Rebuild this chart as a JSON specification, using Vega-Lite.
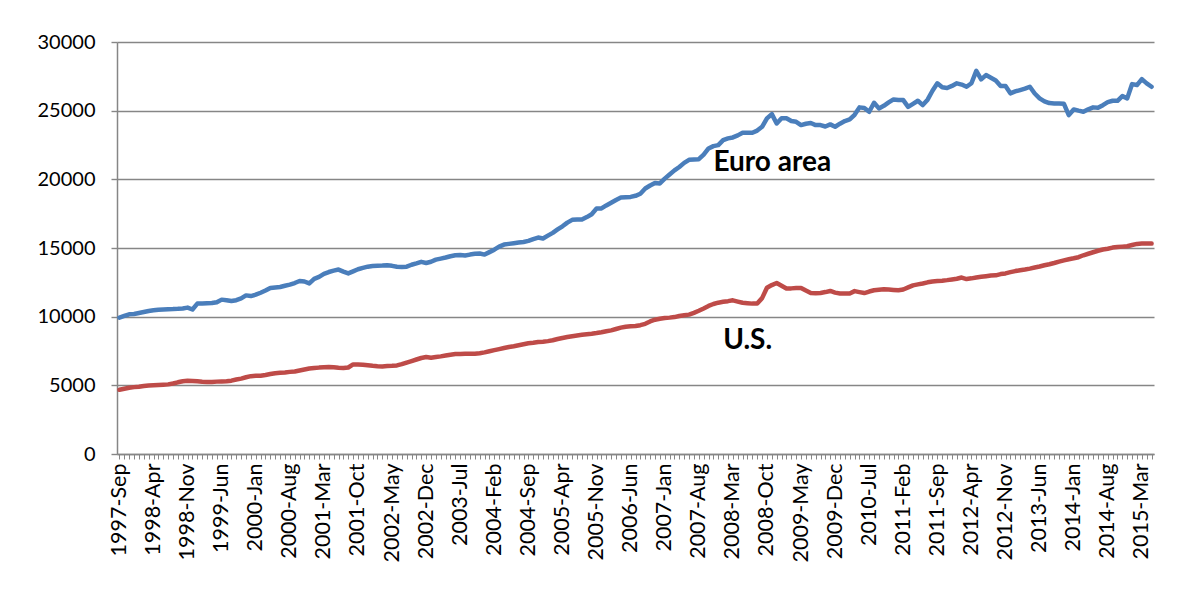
{
  "$schema": "https://vega.github.io/schema/vega-lite/v6.json",
  "width": 1037,
  "height": 412,
  "autosize": "none",
  "padding": {"left": 117, "top": 42, "right": 24, "bottom": 146},
  "background": "white",
  "config": {"view": {"stroke": null}, "font": "Lato"},
  "datasets": {
    "main": [
      {"m":"1997-Sep","ea":9930,"us":4680},{"m":"1997-Oct","ea":10050,"us":4750},{"m":"1997-Nov","ea":10170,"us":4820},{"m":"1997-Dec","ea":10200,"us":4870},
      {"m":"1998-Jan","ea":10270,"us":4900},{"m":"1998-Feb","ea":10340,"us":4950},{"m":"1998-Mar","ea":10410,"us":4990},{"m":"1998-Apr","ea":10460,"us":5010},{"m":"1998-May","ea":10510,"us":5030},{"m":"1998-Jun","ea":10530,"us":5050},{"m":"1998-Jul","ea":10540,"us":5070},{"m":"1998-Aug","ea":10550,"us":5130},{"m":"1998-Sep","ea":10570,"us":5220},{"m":"1998-Oct","ea":10600,"us":5300},{"m":"1998-Nov","ea":10660,"us":5330},{"m":"1998-Dec","ea":10520,"us":5320},
      {"m":"1999-Jan","ea":10950,"us":5290},{"m":"1999-Feb","ea":10960,"us":5260},{"m":"1999-Mar","ea":10980,"us":5240},{"m":"1999-Apr","ea":10990,"us":5250},{"m":"1999-May","ea":11050,"us":5270},{"m":"1999-Jun","ea":11240,"us":5285},{"m":"1999-Jul","ea":11200,"us":5300},{"m":"1999-Aug","ea":11140,"us":5340},{"m":"1999-Sep","ea":11200,"us":5420},{"m":"1999-Oct","ea":11330,"us":5490},{"m":"1999-Nov","ea":11550,"us":5590},{"m":"1999-Dec","ea":11500,"us":5670},
      {"m":"2000-Jan","ea":11600,"us":5690},{"m":"2000-Feb","ea":11740,"us":5700},{"m":"2000-Mar","ea":11900,"us":5750},{"m":"2000-Apr","ea":12090,"us":5820},{"m":"2000-May","ea":12130,"us":5880},{"m":"2000-Jun","ea":12160,"us":5910},{"m":"2000-Jul","ea":12250,"us":5940},{"m":"2000-Aug","ea":12330,"us":5980},{"m":"2000-Sep","ea":12450,"us":6010},{"m":"2000-Oct","ea":12600,"us":6080},{"m":"2000-Nov","ea":12560,"us":6150},{"m":"2000-Dec","ea":12420,"us":6220},
      {"m":"2001-Jan","ea":12750,"us":6260},{"m":"2001-Feb","ea":12900,"us":6290},{"m":"2001-Mar","ea":13120,"us":6310},{"m":"2001-Apr","ea":13250,"us":6330},{"m":"2001-May","ea":13350,"us":6310},{"m":"2001-Jun","ea":13430,"us":6280},{"m":"2001-Jul","ea":13280,"us":6260},{"m":"2001-Aug","ea":13150,"us":6300},{"m":"2001-Sep","ea":13300,"us":6520},{"m":"2001-Oct","ea":13450,"us":6510},{"m":"2001-Nov","ea":13550,"us":6500},{"m":"2001-Dec","ea":13640,"us":6460},
      {"m":"2002-Jan","ea":13690,"us":6420},{"m":"2002-Feb","ea":13710,"us":6390},{"m":"2002-Mar","ea":13720,"us":6380},{"m":"2002-Apr","ea":13740,"us":6400},{"m":"2002-May","ea":13700,"us":6420},{"m":"2002-Jun","ea":13630,"us":6450},{"m":"2002-Jul","ea":13620,"us":6540},{"m":"2002-Aug","ea":13640,"us":6660},{"m":"2002-Sep","ea":13780,"us":6770},{"m":"2002-Oct","ea":13880,"us":6880},{"m":"2002-Nov","ea":13990,"us":6990},{"m":"2002-Dec","ea":13910,"us":7060},
      {"m":"2003-Jan","ea":14000,"us":7010},{"m":"2003-Feb","ea":14150,"us":7060},{"m":"2003-Mar","ea":14230,"us":7110},{"m":"2003-Apr","ea":14310,"us":7170},{"m":"2003-May","ea":14400,"us":7230},{"m":"2003-Jun","ea":14470,"us":7275},{"m":"2003-Jul","ea":14490,"us":7290},{"m":"2003-Aug","ea":14450,"us":7300},{"m":"2003-Sep","ea":14520,"us":7300},{"m":"2003-Oct","ea":14580,"us":7300},{"m":"2003-Nov","ea":14600,"us":7340},{"m":"2003-Dec","ea":14520,"us":7400},
      {"m":"2004-Jan","ea":14700,"us":7480},{"m":"2004-Feb","ea":14880,"us":7560},{"m":"2004-Mar","ea":15100,"us":7640},{"m":"2004-Apr","ea":15250,"us":7720},{"m":"2004-May","ea":15300,"us":7790},{"m":"2004-Jun","ea":15350,"us":7850},{"m":"2004-Jul","ea":15400,"us":7920},{"m":"2004-Aug","ea":15440,"us":7990},{"m":"2004-Sep","ea":15520,"us":8060},{"m":"2004-Oct","ea":15650,"us":8100},{"m":"2004-Nov","ea":15760,"us":8150},{"m":"2004-Dec","ea":15690,"us":8180},
      {"m":"2005-Jan","ea":15900,"us":8220},{"m":"2005-Feb","ea":16100,"us":8280},{"m":"2005-Mar","ea":16350,"us":8370},{"m":"2005-Apr","ea":16580,"us":8450},{"m":"2005-May","ea":16850,"us":8520},{"m":"2005-Jun","ea":17050,"us":8580},{"m":"2005-Jul","ea":17080,"us":8630},{"m":"2005-Aug","ea":17070,"us":8680},{"m":"2005-Sep","ea":17250,"us":8720},{"m":"2005-Oct","ea":17460,"us":8760},{"m":"2005-Nov","ea":17870,"us":8810},{"m":"2005-Dec","ea":17880,"us":8870},
      {"m":"2006-Jan","ea":18100,"us":8940},{"m":"2006-Feb","ea":18300,"us":9000},{"m":"2006-Mar","ea":18500,"us":9100},{"m":"2006-Apr","ea":18680,"us":9200},{"m":"2006-May","ea":18700,"us":9270},{"m":"2006-Jun","ea":18720,"us":9300},{"m":"2006-Jul","ea":18800,"us":9320},{"m":"2006-Aug","ea":18950,"us":9380},{"m":"2006-Sep","ea":19330,"us":9480},{"m":"2006-Oct","ea":19550,"us":9650},{"m":"2006-Nov","ea":19740,"us":9780},{"m":"2006-Dec","ea":19700,"us":9850},
      {"m":"2007-Jan","ea":20050,"us":9900},{"m":"2007-Feb","ea":20350,"us":9930},{"m":"2007-Mar","ea":20650,"us":9970},{"m":"2007-Apr","ea":20900,"us":10050},{"m":"2007-May","ea":21200,"us":10100},{"m":"2007-Jun","ea":21420,"us":10150},{"m":"2007-Jul","ea":21450,"us":10280},{"m":"2007-Aug","ea":21470,"us":10430},{"m":"2007-Sep","ea":21800,"us":10600},{"m":"2007-Oct","ea":22250,"us":10780},{"m":"2007-Nov","ea":22420,"us":10920},{"m":"2007-Dec","ea":22490,"us":11020},
      {"m":"2008-Jan","ea":22850,"us":11080},{"m":"2008-Feb","ea":22980,"us":11130},{"m":"2008-Mar","ea":23050,"us":11190},{"m":"2008-Apr","ea":23200,"us":11100},{"m":"2008-May","ea":23390,"us":11010},{"m":"2008-Jun","ea":23400,"us":10980},{"m":"2008-Jul","ea":23390,"us":10950},{"m":"2008-Aug","ea":23550,"us":10960},{"m":"2008-Sep","ea":23825,"us":11350},{"m":"2008-Oct","ea":24435,"us":12100},{"m":"2008-Nov","ea":24750,"us":12300},{"m":"2008-Dec","ea":24070,"us":12450},
      {"m":"2009-Jan","ea":24450,"us":12250},{"m":"2009-Feb","ea":24450,"us":12050},{"m":"2009-Mar","ea":24250,"us":12060},{"m":"2009-Apr","ea":24190,"us":12080},{"m":"2009-May","ea":23950,"us":12090},{"m":"2009-Jun","ea":24050,"us":11900},{"m":"2009-Jul","ea":24100,"us":11720},{"m":"2009-Aug","ea":23950,"us":11700},{"m":"2009-Sep","ea":23950,"us":11730},{"m":"2009-Oct","ea":23850,"us":11790},{"m":"2009-Nov","ea":24000,"us":11870},{"m":"2009-Dec","ea":23830,"us":11750},
      {"m":"2010-Jan","ea":24050,"us":11690},{"m":"2010-Feb","ea":24240,"us":11680},{"m":"2010-Mar","ea":24360,"us":11690},{"m":"2010-Apr","ea":24700,"us":11860},{"m":"2010-May","ea":25240,"us":11790},{"m":"2010-Jun","ea":25200,"us":11720},{"m":"2010-Jul","ea":24920,"us":11830},{"m":"2010-Aug","ea":25575,"us":11920},{"m":"2010-Sep","ea":25165,"us":11960},{"m":"2010-Oct","ea":25350,"us":12000},{"m":"2010-Nov","ea":25600,"us":11980},{"m":"2010-Dec","ea":25820,"us":11950},
      {"m":"2011-Jan","ea":25780,"us":11920},{"m":"2011-Feb","ea":25770,"us":11980},{"m":"2011-Mar","ea":25280,"us":12130},{"m":"2011-Apr","ea":25500,"us":12280},{"m":"2011-May","ea":25720,"us":12350},{"m":"2011-Jun","ea":25405,"us":12420},{"m":"2011-Jul","ea":25800,"us":12500},{"m":"2011-Aug","ea":26450,"us":12560},{"m":"2011-Sep","ea":26990,"us":12590},{"m":"2011-Oct","ea":26700,"us":12620},{"m":"2011-Nov","ea":26650,"us":12660},{"m":"2011-Dec","ea":26800,"us":12710},
      {"m":"2012-Jan","ea":26990,"us":12760},{"m":"2012-Feb","ea":26900,"us":12850},{"m":"2012-Mar","ea":26740,"us":12740},{"m":"2012-Apr","ea":27000,"us":12790},{"m":"2012-May","ea":27900,"us":12850},{"m":"2012-Jun","ea":27280,"us":12900},{"m":"2012-Jul","ea":27590,"us":12950},{"m":"2012-Aug","ea":27400,"us":13000},{"m":"2012-Sep","ea":27200,"us":13010},{"m":"2012-Oct","ea":26800,"us":13100},{"m":"2012-Nov","ea":26790,"us":13150},{"m":"2012-Dec","ea":26260,"us":13240},
      {"m":"2013-Jan","ea":26400,"us":13320},{"m":"2013-Feb","ea":26500,"us":13380},{"m":"2013-Mar","ea":26600,"us":13430},{"m":"2013-Apr","ea":26740,"us":13500},{"m":"2013-May","ea":26250,"us":13580},{"m":"2013-Jun","ea":25900,"us":13650},{"m":"2013-Jul","ea":25680,"us":13740},{"m":"2013-Aug","ea":25550,"us":13820},{"m":"2013-Sep","ea":25530,"us":13910},{"m":"2013-Oct","ea":25530,"us":14010},{"m":"2013-Nov","ea":25500,"us":14100},{"m":"2013-Dec","ea":24675,"us":14180},
      {"m":"2014-Jan","ea":25090,"us":14250},{"m":"2014-Feb","ea":25000,"us":14330},{"m":"2014-Mar","ea":24920,"us":14470},{"m":"2014-Apr","ea":25100,"us":14580},{"m":"2014-May","ea":25240,"us":14690},{"m":"2014-Jun","ea":25210,"us":14800},{"m":"2014-Jul","ea":25400,"us":14890},{"m":"2014-Aug","ea":25620,"us":14950},{"m":"2014-Sep","ea":25720,"us":15030},{"m":"2014-Oct","ea":25720,"us":15075},{"m":"2014-Nov","ea":26060,"us":15100},{"m":"2014-Dec","ea":25895,"us":15125},
      {"m":"2015-Jan","ea":26935,"us":15220},{"m":"2015-Feb","ea":26865,"us":15300},{"m":"2015-Mar","ea":27300,"us":15320},{"m":"2015-Apr","ea":26990,"us":15330},{"m":"2015-May","ea":26740,"us":15320}
    ],
    "labels": [
      {"m":"2007-Nov","v":20620,"t":"Euro area"},
      {"m":"2008-Jan","v":7670,"t":"U.S."}
    ]
  },
  "layer": [
    {
      "data": {"name": "main"},
      "transform": [{"fold": ["ea", "us"], "as": ["series", "value"]}],
      "mark": {"type": "line", "strokeWidth": 4.5, "strokeJoin": "round", "strokeCap": "round"},
      "encoding": {
        "x": {
          "field": "m", "type": "ordinal", "sort": null,
          "scale": {"type": "point", "padding": 0.5},
          "axis": {
            "title": null,
            "labelAngle": -90, "labelAlign": "right", "labelBaseline": "middle",
            "labelFont": "Lato", "labelFontSize": 21.5, "labelColor": "#000000",
            "labelOverlap": false, "labelFlush": false, "labelBound": false, "labelPadding": 4,
            "tickSize": 5, "tickColor": "#868686", "tickWidth": 1,
            "domainColor": "#868686", "domainWidth": 1.5,
            "labelExpr": "indexof(['1997-Sep','1998-Apr','1998-Nov','1999-Jun','2000-Jan','2000-Aug','2001-Mar','2001-Oct','2002-May','2002-Dec','2003-Jul','2004-Feb','2004-Sep','2005-Apr','2005-Nov','2006-Jun','2007-Jan','2007-Aug','2008-Mar','2008-Oct','2009-May','2009-Dec','2010-Jul','2011-Feb','2011-Sep','2012-Apr','2012-Nov','2013-Jun','2014-Jan','2014-Aug','2015-Mar'], datum.value) >= 0 ? datum.value : ''"
          }
        },
        "y": {
          "field": "value", "type": "quantitative",
          "scale": {"domain": [0, 30000], "nice": false},
          "axis": {
            "title": null, "format": "d",
            "values": [0, 5000, 10000, 15000, 20000, 25000, 30000],
            "grid": true, "gridColor": "#868686", "gridWidth": 1.4,
            "domainColor": "#868686", "domainWidth": 1.5,
            "tickSize": 6, "tickColor": "#868686", "tickWidth": 1.4,
            "labelFont": "Lato", "labelFontSize": 20, "labelColor": "#000000", "labelPadding": 16
          }
        },
        "color": {
          "field": "series", "type": "nominal",
          "scale": {"domain": ["ea", "us"], "range": ["#4A7EBB", "#BE4B48"]},
          "legend": null
        }
      }
    },
    {
      "data": {"name": "labels"},
      "mark": {"type": "text", "align": "left", "baseline": "alphabetic", "font": "Lato", "fontSize": 28, "fontWeight": "bold", "color": "#000000"},
      "encoding": {
        "x": {"field": "m", "type": "ordinal", "sort": null},
        "y": {"field": "v", "type": "quantitative"},
        "text": {"field": "t"}
      }
    }
  ]
}
